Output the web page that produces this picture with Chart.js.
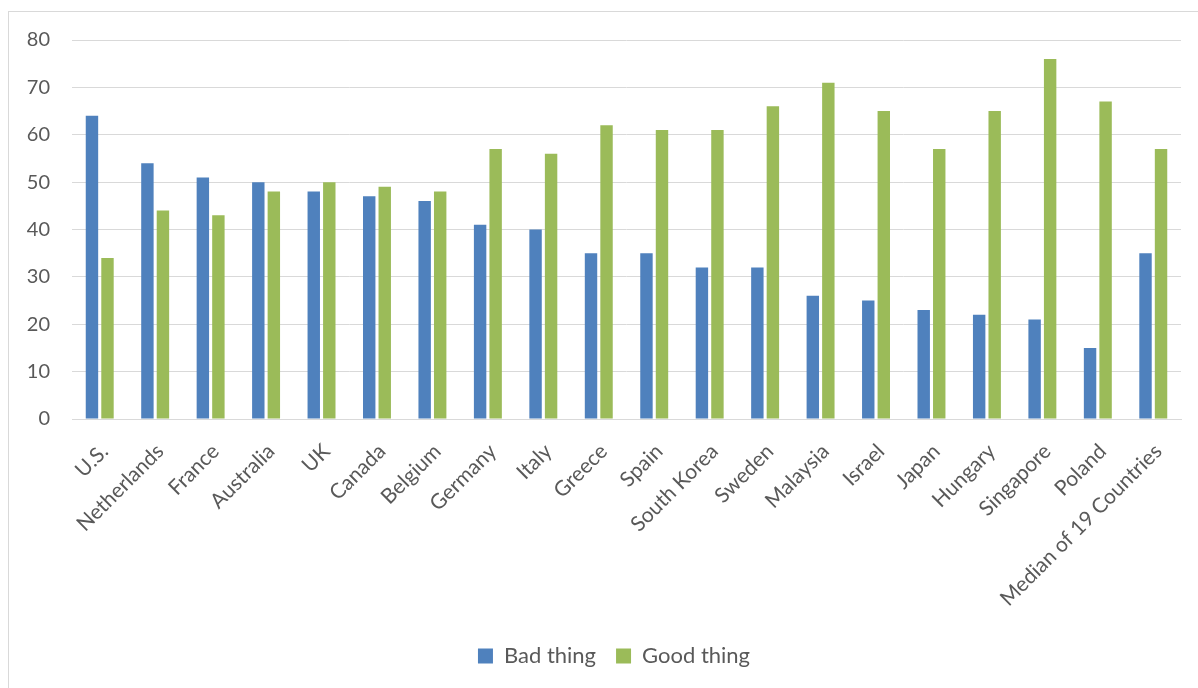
<!DOCTYPE html>
<html><head><meta charset="utf-8">
<script src="https://cdn.jsdelivr.net/npm/chart.js@4/dist/chart.umd.min.js"></script>
<style>
html,body{margin:0;padding:0;background:#fff;overflow:hidden;}
#frame{position:absolute;left:8px;top:11px;width:1200px;height:700px;border:1px solid #d9d9d9;box-sizing:border-box;}
#wrap{position:absolute;left:9px;top:12px;width:1189px;height:676px;}
</style></head>
<body>
<div id="frame"></div>
<div id="wrap"><canvas id="c" width="1189" height="676"></canvas></div>
<script>
const categories = ["U.S.","Netherlands","France","Australia","UK","Canada","Belgium","Germany","Italy","Greece","Spain","South Korea","Sweden","Malaysia","Israel","Japan","Hungary","Singapore","Poland","Median of 19 Countries"];
const badThing = [64,54,51,50,48,47,46,41,40,35,35,32,32,26,25,23,22,21,15,35];
const goodThing = [34,44,43,48,50,49,48,57,56,62,61,61,66,71,65,57,65,76,67,57];
const yTicks = [0,10,20,30,40,50,60,70,80];

const font = "Lato, 'Open Sans', sans-serif";
const legendShift = {
  id: 'legendShift',
  afterLayout(chart) {
    if (chart.legend) { chart.legend.left += 19; chart.legend.right += 19; }
  }
};
new Chart(document.getElementById('c'), {
  type: 'bar',
  data: {
    labels: categories,
    datasets: [
      {label: 'Bad thing', data: badThing, backgroundColor: '#4F81BD', categoryPercentage: 0.56, barPercentage: 0.8},
      {label: 'Good thing', data: goodThing, backgroundColor: '#9BBB59', categoryPercentage: 0.56, barPercentage: 0.8}
    ]
  },
  plugins: [legendShift],
  options: {
    responsive: false,
    animation: false,
    layout: {padding: {top: 28, right: 17, bottom: 11, left: 0}},
    plugins: {
      tooltip: {enabled: false},
      legend: {
        position: 'bottom',
        labels: {font: {family: font, size: 22}, color: '#595959', boxWidth: 15, boxHeight: 15, padding: 20}
      }
    },
    scales: {
      x: {
        grid: {display: false, drawTicks: false},
        border: {color: '#d9d9d9', width: 1},
        ticks: {autoSkip: false, maxRotation: 45, minRotation: 45, padding: 20, labelOffset: 5, color: '#595959', font: {family: font, size: 21}},
        afterFit: s => { s.height = 206; }
      },
      y: {
        min: 0, max: 80,
        afterBuildTicks: s => { s.ticks = yTicks.map(v => ({value: v})); },
        grid: {color: '#d9d9d9', lineWidth: 1, drawTicks: true, tickLength: 16, tickColor: 'rgba(0,0,0,0)'},
        border: {display: false},
        ticks: {padding: 6, color: '#595959', font: {family: font, size: 20}},
        afterFit: s => { s.width = 63; }
      }
    }
  }
});
</script>
</body></html>
